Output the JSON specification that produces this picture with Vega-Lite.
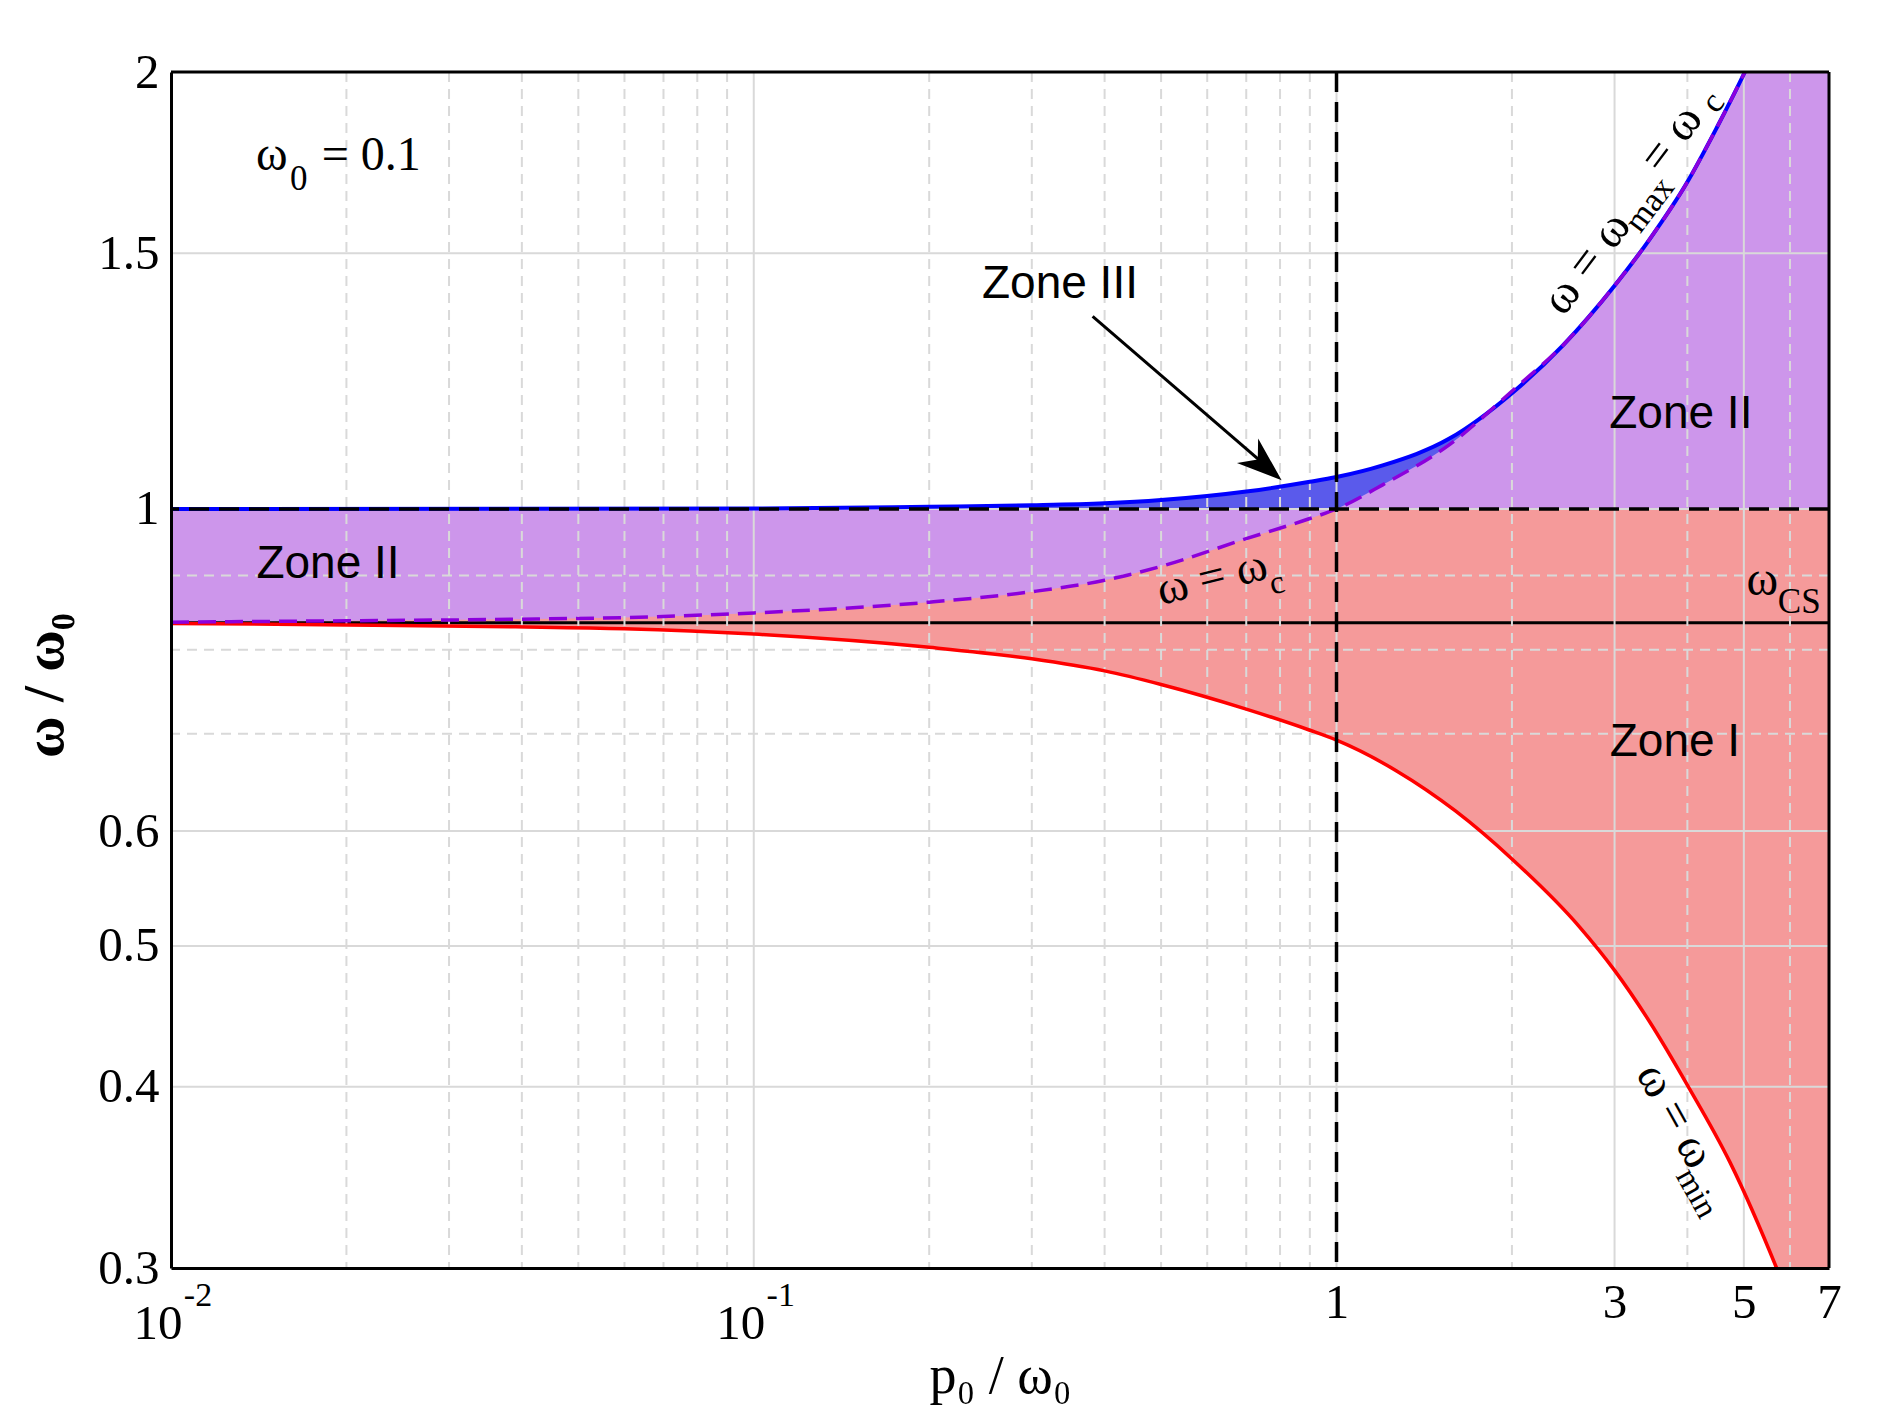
{
  "$schema": "https://vega.github.io/schema/vega-lite/v6.json",
  "width": 1658,
  "height": 1196,
  "autosize": {"type": "none"},
  "padding": {"left": 171, "top": 72, "right": 71, "bottom": 157},
  "background": "white",
  "config": {"view": {"stroke": null}},
  "datasets": {
    "omega_min": [
      {"p": 0.01, "w": 0.834}, {"p": 0.02, "w": 0.832}, {"p": 0.039, "w": 0.8295},
      {"p": 0.06, "w": 0.827}, {"p": 0.1, "w": 0.82}, {"p": 0.2, "w": 0.803},
      {"p": 0.3, "w": 0.7885}, {"p": 0.4, "w": 0.7735}, {"p": 0.5, "w": 0.757},
      {"p": 0.7, "w": 0.728}, {"p": 0.9, "w": 0.704}, {"p": 1.0, "w": 0.693},
      {"p": 1.268, "w": 0.66}, {"p": 1.6, "w": 0.6194}, {"p": 2.0, "w": 0.574},
      {"p": 2.616, "w": 0.515}, {"p": 3.0, "w": 0.481}, {"p": 3.45, "w": 0.443},
      {"p": 4.0, "w": 0.401}, {"p": 4.73, "w": 0.355}, {"p": 5.69, "w": 0.3},
      {"p": 7.0, "w": 0.24}
    ],
    "omega_c": [
      {"p": 0.01, "w": 0.8357}, {"p": 0.02, "w": 0.8375}, {"p": 0.039, "w": 0.8395},
      {"p": 0.06, "w": 0.8418}, {"p": 0.1, "w": 0.848}, {"p": 0.2, "w": 0.8626},
      {"p": 0.3, "w": 0.877}, {"p": 0.4, "w": 0.893}, {"p": 0.5, "w": 0.913},
      {"p": 0.7, "w": 0.954}, {"p": 0.9, "w": 0.985}, {"p": 1.0, "w": 1.0},
      {"p": 1.2, "w": 1.039}, {"p": 1.565, "w": 1.108}, {"p": 2.037, "w": 1.2135},
      {"p": 2.449, "w": 1.297}, {"p": 3.0, "w": 1.425}, {"p": 3.45, "w": 1.535},
      {"p": 3.99, "w": 1.677}, {"p": 4.49, "w": 1.83}, {"p": 5.02, "w": 2.0},
      {"p": 7.0, "w": 2.75}
    ],
    "omega_max": [
      {"p": 0.01, "w": 1.0}, {"p": 0.1, "w": 1.0008}, {"p": 0.2, "w": 1.0036},
      {"p": 0.3, "w": 1.0058}, {"p": 0.4, "w": 1.009}, {"p": 0.5, "w": 1.0142},
      {"p": 0.7, "w": 1.028}, {"p": 0.9, "w": 1.044}, {"p": 1.0, "w": 1.052},
      {"p": 1.2, "w": 1.0716}, {"p": 1.565, "w": 1.1186}, {"p": 2.0, "w": 1.2016},
      {"p": 2.449, "w": 1.297}, {"p": 3.0, "w": 1.425}, {"p": 3.45, "w": 1.535},
      {"p": 3.99, "w": 1.677}, {"p": 4.49, "w": 1.83}, {"p": 5.02, "w": 2.0},
      {"p": 7.0, "w": 2.75}
    ],
    "x_major": [{"p": 0.1}, {"p": 1}, {"p": 3}, {"p": 5}],
    "x_minor": [
      {"p": 0.02}, {"p": 0.03}, {"p": 0.04}, {"p": 0.05}, {"p": 0.06}, {"p": 0.07}, {"p": 0.08}, {"p": 0.09},
      {"p": 0.2}, {"p": 0.3}, {"p": 0.4}, {"p": 0.5}, {"p": 0.6}, {"p": 0.7}, {"p": 0.8}, {"p": 0.9},
      {"p": 2}, {"p": 4}, {"p": 6}
    ],
    "y_major": [{"w": 0.4}, {"w": 0.5}, {"w": 0.6}, {"w": 1}, {"w": 1.5}],
    "y_minor": [{"w": 0.7}, {"w": 0.8}, {"w": 0.9}],
    "plain_text": [
      {"p": 0.013988, "w": 1.712, "t": "ω"},
      {"p": 0.018144, "w": 1.712, "t": "= 0.1"},
      {"p": 5.054, "w": 0.8723, "t": "ω"}
    ],
    "plain_sub": [
      {"p": 0.016004, "w": 1.6585, "t": "0"},
      {"p": 5.719, "w": 0.8477, "t": "CS"}
    ],
    "zones": [
      {"p": 0.3353, "w": 1.3968, "t": "Zone III"},
      {"p": 0.018597, "w": 0.8963, "t": "Zone II"},
      {"p": 3.898, "w": 1.1363, "t": "Zone II"},
      {"p": 3.808, "w": 0.6758, "t": "Zone I"}
    ]
  },
  "layer": [
    {
      "data": {"name": "omega_min"},
      "mark": {"type": "area", "interpolate": "monotone", "clip": true, "color": "#f59a9a"},
      "encoding": {
        "x": {
          "field": "p", "type": "quantitative",
          "scale": {"type": "log", "domain": [0.01, 7], "nice": false},
          "axis": {
            "values": [1, 3, 5, 7],
            "format": "~g",
            "title": "p₀ / ω₀",
            "grid": false,
            "ticks": false,
            "domainColor": "black",
            "domainWidth": 3,
            "labelFont": "Liberation Serif",
            "labelFontSize": 49,
            "labelColor": "black",
            "labelPadding": 10,
            "labelOverlap": false,
            "labelFlush": false,
            "labelBound": false,
            "titleFont": "Liberation Serif",
            "titleFontSize": 54,
            "titleFontWeight": "normal",
            "titleColor": "black",
            "titlePadding": 22,
            "zindex": 1
          }
        },
        "y": {
          "field": "w", "type": "quantitative",
          "scale": {"type": "log", "domain": [0.3, 2], "nice": false},
          "axis": {
            "values": [0.3, 0.4, 0.5, 0.6, 1, 1.5, 2],
            "format": "~g",
            "title": "ω / ω₀",
            "grid": false,
            "ticks": false,
            "domainColor": "black",
            "domainWidth": 3,
            "labelFont": "Liberation Serif",
            "labelFontSize": 49,
            "labelColor": "black",
            "labelPadding": 12,
            "labelOverlap": false,
            "labelFlush": false,
            "labelBound": false,
            "titleFont": "Liberation Serif",
            "titleFontSize": 57,
            "titleFontWeight": "bold",
            "titleColor": "black",
            "titleX": -126,
            "titleY": 613,
            "titleAngle": -90,
            "titleAlign": "center",
            "titleBaseline": "middle",
            "zindex": 1
          }
        },
        "y2": {"datum": 1}
      }
    },
    {
      "data": {"name": "omega_max"},
      "mark": {"type": "area", "interpolate": "monotone", "clip": true, "color": "#5a5aeb"},
      "encoding": {
        "x": {"field": "p", "type": "quantitative", "scale": {"type": "log", "domain": [0.01, 7], "nice": false}},
        "y": {"field": "w", "type": "quantitative", "scale": {"type": "log", "domain": [0.3, 2], "nice": false}},
        "y2": {"datum": 1}
      }
    },
    {
      "data": {"name": "omega_c"},
      "mark": {"type": "area", "interpolate": "monotone", "clip": true, "color": "#cd96eb"},
      "encoding": {
        "x": {"field": "p", "type": "quantitative", "scale": {"type": "log", "domain": [0.01, 7], "nice": false}},
        "y": {"field": "w", "type": "quantitative", "scale": {"type": "log", "domain": [0.3, 2], "nice": false}},
        "y2": {"datum": 1}
      }
    },
    {
      "data": {"values": [{}]},
      "mark": {"type": "rule", "color": "black", "strokeWidth": 3},
      "encoding": {"y": {"datum": 0.835, "type": "quantitative", "scale": {"type": "log", "domain": [0.3, 2], "nice": false}}}
    },
    {
      "data": {"name": "x_major"},
      "mark": {"type": "rule", "color": "#d9d9d9", "strokeWidth": 2},
      "encoding": {"x": {"field": "p", "type": "quantitative", "scale": {"type": "log", "domain": [0.01, 7], "nice": false}}}
    },
    {
      "data": {"name": "x_minor"},
      "mark": {"type": "rule", "color": "#d9d9d9", "strokeWidth": 2, "strokeDash": [10, 7]},
      "encoding": {"x": {"field": "p", "type": "quantitative", "scale": {"type": "log", "domain": [0.01, 7], "nice": false}}}
    },
    {
      "data": {"name": "y_major"},
      "mark": {"type": "rule", "color": "#d9d9d9", "strokeWidth": 2},
      "encoding": {"y": {"field": "w", "type": "quantitative", "scale": {"type": "log", "domain": [0.3, 2], "nice": false}}}
    },
    {
      "data": {"name": "y_minor"},
      "mark": {"type": "rule", "color": "#d9d9d9", "strokeWidth": 2, "strokeDash": [10, 7]},
      "encoding": {"y": {"field": "w", "type": "quantitative", "scale": {"type": "log", "domain": [0.3, 2], "nice": false}}}
    },
    {
      "data": {"name": "omega_max"},
      "mark": {"type": "line", "interpolate": "monotone", "clip": true, "color": "#0000ff", "strokeWidth": 4},
      "encoding": {
        "x": {"field": "p", "type": "quantitative", "scale": {"type": "log", "domain": [0.01, 7], "nice": false}},
        "y": {"field": "w", "type": "quantitative", "scale": {"type": "log", "domain": [0.3, 2], "nice": false}}
      }
    },
    {
      "data": {"name": "omega_min"},
      "mark": {"type": "line", "interpolate": "monotone", "clip": true, "color": "#ff0000", "strokeWidth": 3.5},
      "encoding": {
        "x": {"field": "p", "type": "quantitative", "scale": {"type": "log", "domain": [0.01, 7], "nice": false}},
        "y": {"field": "w", "type": "quantitative", "scale": {"type": "log", "domain": [0.3, 2], "nice": false}}
      }
    },
    {
      "data": {"name": "omega_c"},
      "mark": {"type": "line", "interpolate": "monotone", "clip": true, "color": "#8c00dc", "strokeWidth": 3.5, "strokeDash": [18, 9]},
      "encoding": {
        "x": {"field": "p", "type": "quantitative", "scale": {"type": "log", "domain": [0.01, 7], "nice": false}},
        "y": {"field": "w", "type": "quantitative", "scale": {"type": "log", "domain": [0.3, 2], "nice": false}}
      }
    },
    {
      "data": {"values": [{}]},
      "mark": {"type": "rule", "color": "black", "strokeWidth": 3.5, "strokeDash": [20, 10]},
      "encoding": {"y": {"datum": 1, "type": "quantitative", "scale": {"type": "log", "domain": [0.3, 2], "nice": false}}}
    },
    {
      "data": {"values": [{}]},
      "mark": {"type": "rule", "color": "black", "strokeWidth": 3.5, "strokeDash": [20, 10]},
      "encoding": {"x": {"datum": 1, "type": "quantitative", "scale": {"type": "log", "domain": [0.01, 7], "nice": false}}}
    },
    {
      "data": {"values": [{}]},
      "mark": {"type": "rule", "color": "black", "strokeWidth": 3},
      "encoding": {"y": {"datum": 2, "type": "quantitative", "scale": {"type": "log", "domain": [0.3, 2], "nice": false}}}
    },
    {
      "data": {"values": [{}]},
      "mark": {"type": "rule", "color": "black", "strokeWidth": 3},
      "encoding": {"x": {"datum": 7, "type": "quantitative", "scale": {"type": "log", "domain": [0.01, 7], "nice": false}}}
    },
    {
      "data": {"values": [{"p": 0.3815, "w": 1.3571, "p2": 0.79, "w2": 1.055}]},
      "mark": {"type": "rule", "color": "black", "strokeWidth": 3},
      "encoding": {
        "x": {"field": "p", "type": "quantitative", "scale": {"type": "log", "domain": [0.01, 7], "nice": false}},
        "y": {"field": "w", "type": "quantitative", "scale": {"type": "log", "domain": [0.3, 2], "nice": false}},
        "x2": {"field": "p2"},
        "y2": {"field": "w2"}
      }
    },
    {
      "data": {"values": [{"p": 0.805, "w": 1.0467}]},
      "mark": {"type": "point", "shape": "M0,0L-1,-0.36L-0.7,0L-1,0.36Z", "filled": true, "color": "black", "opacity": 1, "size": 8100, "angle": 40.8, "strokeWidth": 0},
      "encoding": {
        "x": {"field": "p", "type": "quantitative", "scale": {"type": "log", "domain": [0.01, 7], "nice": false}},
        "y": {"field": "w", "type": "quantitative", "scale": {"type": "log", "domain": [0.3, 2], "nice": false}}
      }
    },
    {
      "data": {"name": "plain_text"},
      "mark": {"type": "text", "font": "Liberation Serif", "fontSize": 48, "align": "left", "baseline": "alphabetic", "color": "black"},
      "encoding": {
        "x": {"field": "p", "type": "quantitative", "scale": {"type": "log", "domain": [0.01, 7], "nice": false}},
        "y": {"field": "w", "type": "quantitative", "scale": {"type": "log", "domain": [0.3, 2], "nice": false}},
        "text": {"field": "t"}
      }
    },
    {
      "data": {"name": "plain_sub"},
      "mark": {"type": "text", "font": "Liberation Serif", "fontSize": 35, "align": "left", "baseline": "alphabetic", "color": "black"},
      "encoding": {
        "x": {"field": "p", "type": "quantitative", "scale": {"type": "log", "domain": [0.01, 7], "nice": false}},
        "y": {"field": "w", "type": "quantitative", "scale": {"type": "log", "domain": [0.3, 2], "nice": false}},
        "text": {"field": "t"}
      }
    },
    {
      "data": {"values": [{"p": 0.6114, "w": 0.8965, "t": "ω = ω"}]},
      "mark": {"type": "text", "font": "Liberation Serif", "fontSize": 47, "align": "center", "baseline": "middle", "angle": -13.9, "color": "black"},
      "encoding": {
        "x": {"field": "p", "type": "quantitative", "scale": {"type": "log", "domain": [0.01, 7], "nice": false}},
        "y": {"field": "w", "type": "quantitative", "scale": {"type": "log", "domain": [0.3, 2], "nice": false}},
        "text": {"field": "t"}
      }
    },
    {
      "data": {"values": [{"p": 0.79, "w": 0.8888, "t": "c"}]},
      "mark": {"type": "text", "font": "Liberation Serif", "fontSize": 33, "align": "center", "baseline": "middle", "angle": -13.9, "color": "black"},
      "encoding": {
        "x": {"field": "p", "type": "quantitative", "scale": {"type": "log", "domain": [0.01, 7], "nice": false}},
        "y": {"field": "w", "type": "quantitative", "scale": {"type": "log", "domain": [0.3, 2], "nice": false}},
        "text": {"field": "t"}
      }
    },
    {
      "data": {"values": [{"p": 2.686, "w": 1.4768, "t": "ω = ω"}, {"p": 3.758, "w": 1.7986, "t": "= ω"}]},
      "mark": {"type": "text", "font": "Liberation Serif", "fontSize": 48, "align": "center", "baseline": "middle", "angle": -53, "color": "black"},
      "encoding": {
        "x": {"field": "p", "type": "quantitative", "scale": {"type": "log", "domain": [0.01, 7], "nice": false}},
        "y": {"field": "w", "type": "quantitative", "scale": {"type": "log", "domain": [0.3, 2], "nice": false}},
        "text": {"field": "t"}
      }
    },
    {
      "data": {"values": [{"p": 3.45, "w": 1.6198, "t": "max"}, {"p": 4.43, "w": 1.905, "t": "c"}]},
      "mark": {"type": "text", "font": "Liberation Serif", "fontSize": 34, "align": "center", "baseline": "middle", "angle": -53, "color": "black"},
      "encoding": {
        "x": {"field": "p", "type": "quantitative", "scale": {"type": "log", "domain": [0.01, 7], "nice": false}},
        "y": {"field": "w", "type": "quantitative", "scale": {"type": "log", "domain": [0.3, 2], "nice": false}},
        "text": {"field": "t"}
      }
    },
    {
      "data": {"values": [{"p": 3.808, "w": 0.382, "t": "ω = ω"}]},
      "mark": {"type": "text", "font": "Liberation Serif", "fontSize": 47, "align": "center", "baseline": "middle", "angle": 60.8, "color": "black"},
      "encoding": {
        "x": {"field": "p", "type": "quantitative", "scale": {"type": "log", "domain": [0.01, 7], "nice": false}},
        "y": {"field": "w", "type": "quantitative", "scale": {"type": "log", "domain": [0.3, 2], "nice": false}},
        "text": {"field": "t"}
      }
    },
    {
      "data": {"values": [{"p": 4.149, "w": 0.3378, "t": "min"}]},
      "mark": {"type": "text", "font": "Liberation Serif", "fontSize": 33, "align": "center", "baseline": "middle", "angle": 60.8, "color": "black"},
      "encoding": {
        "x": {"field": "p", "type": "quantitative", "scale": {"type": "log", "domain": [0.01, 7], "nice": false}},
        "y": {"field": "w", "type": "quantitative", "scale": {"type": "log", "domain": [0.3, 2], "nice": false}},
        "text": {"field": "t"}
      }
    },
    {
      "data": {"name": "zones"},
      "mark": {"type": "text", "font": "Liberation Sans", "fontSize": 46, "align": "center", "baseline": "alphabetic", "color": "black"},
      "encoding": {
        "x": {"field": "p", "type": "quantitative", "scale": {"type": "log", "domain": [0.01, 7], "nice": false}},
        "y": {"field": "w", "type": "quantitative", "scale": {"type": "log", "domain": [0.3, 2], "nice": false}},
        "text": {"field": "t"}
      }
    },
    {
      "data": {"values": [{"p": 0.01, "t": "10"}, {"p": 0.1, "t": "10"}]},
      "mark": {"type": "text", "font": "Liberation Serif", "fontSize": 49, "align": "center", "baseline": "alphabetic", "dx": -13, "dy": 71, "color": "black"},
      "encoding": {
        "x": {"field": "p", "type": "quantitative", "scale": {"type": "log", "domain": [0.01, 7], "nice": false}},
        "y": {"datum": 0.3, "type": "quantitative", "scale": {"type": "log", "domain": [0.3, 2], "nice": false}},
        "text": {"field": "t"}
      }
    },
    {
      "data": {"values": [{"p": 0.01, "t": "-2"}, {"p": 0.1, "t": "-1"}]},
      "mark": {"type": "text", "font": "Liberation Serif", "fontSize": 34, "align": "center", "baseline": "alphabetic", "dx": 27, "dy": 38, "color": "black"},
      "encoding": {
        "x": {"field": "p", "type": "quantitative", "scale": {"type": "log", "domain": [0.01, 7], "nice": false}},
        "y": {"datum": 0.3, "type": "quantitative", "scale": {"type": "log", "domain": [0.3, 2], "nice": false}},
        "text": {"field": "t"}
      }
    }
  ]
}
